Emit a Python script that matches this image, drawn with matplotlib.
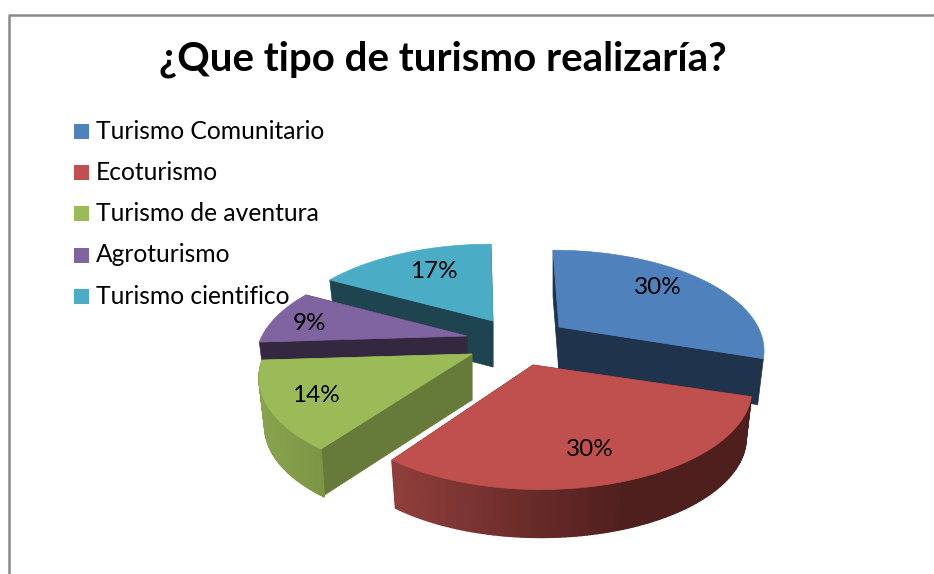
import numpy as np
import matplotlib
matplotlib.use("Agg")
import matplotlib.pyplot as plt
from matplotlib.patches import Polygon, Rectangle
from matplotlib.lines import Line2D

title = "¿Que tipo de turismo realizaría?"
categories = ["Turismo Comunitario", "Ecoturismo", "Turismo de aventura", "Agroturismo", "Turismo cientifico"]
values = [30, 30, 14, 9, 17]
top_colors = ["#4f81bd", "#c0504d", "#9bbb59", "#8064a2", "#4bacc6"]
face_colors = ["#1f334d", "#4f1f1e", "#667a3a", "#342841", "#1e4450"]

# where each exploded slice's tip sits, in pixels
tips = [(559, 327), (533, 365), (472, 354), (467, 336), (493, 321)]
# sideways nudge of the outer arc against the tip
arc_shift = [-6, 8, -2, 0, -2]
draw_order = [4, 0, 3, 2, 1]

RX = 205
RY = 95
PERSP = 0.237
DEPTH = 46


def project(theta, tip, shift=0):
    u = np.sin(theta)
    v = np.cos(theta)
    s = 1 / (1 + PERSP * v)
    return tip[0] + shift + RX * u * s, tip[1] - RY * v * s


def mix(c1, c2, t):
    a = np.array(matplotlib.colors.to_rgb(c1))
    b = np.array(matplotlib.colors.to_rgb(c2))
    return tuple(a + (b - a) * t)


plt.rcParams["font.family"] = ["Lato", "DejaVu Sans"]

fig = plt.figure(figsize=(9.34, 5.74), dpi=100)
ax = fig.add_axes([0, 0, 1, 1])
ax.set_xlim(0, 934)
ax.set_ylim(574, 0)
ax.axis("off")

# chart frame, only top and left are in the crop
ax.add_line(Line2D([9, 9, 934], [574, 14.5, 14.5], color="#8a8a8a", lw=1.8))

shares = np.array(values) / sum(values)
edges = np.concatenate([[0], np.cumsum(shares)]) * 2 * np.pi

for i in draw_order:
    tip = tips[i]
    t0, t1 = edges[i], edges[i + 1]
    thetas = np.linspace(t0, t1, 90)
    xs, ys = project(thetas, tip, arc_shift[i])
    taper = 6 * np.sin(thetas)

    # flat cut faces
    for t in (t0, t1):
        x, y = project(t, tip, arc_shift[i])
        ax.add_patch(Polygon([tip, (x, y), (x - 6 * np.sin(t), y + DEPTH),
                              (tip[0], tip[1] + DEPTH)],
                             closed=True, fc=face_colors[i], ec=face_colors[i], lw=0.5))

    # rim with a left to right shading, only the two front slices show one
    if i in (1, 2):
        for k in range(len(thetas) - 1):
            if i == 1:
                pos = min(max((xs[k] - 397) / 230, 0), 1)
                col = mix("#8f3e3b", "#4f1f1e", pos)
            else:
                pos = min(max((xs[k] - 256) / 75, 0), 1)
                col = mix("#89a44e", "#7a9344", pos)
            ax.add_patch(Polygon([(xs[k], ys[k]), (xs[k + 1], ys[k + 1]),
                                  (xs[k + 1] - taper[k + 1], ys[k + 1] + DEPTH + 2),
                                  (xs[k] - taper[k], ys[k] + DEPTH + 2)],
                                 closed=True, fc=col, ec=col, lw=1))

    # top of the slice
    ax.add_patch(Polygon(np.vstack([[tip], np.column_stack([xs, ys])]),
                         closed=True, fc=top_colors[i], ec=top_colors[i], lw=0.5))

# percent labels
label_pos = [(658, 294), (590, 456), (316, 402), (309, 330), (434, 278)]
for val, (lx, ly) in zip(values, label_pos):
    ax.text(lx, ly, f"{val}%", ha="center", va="baseline", fontsize=17.5, color="black", zorder=10)

ax.text(443, 70, title, ha="center", va="baseline", fontsize=29, fontweight="bold", color="black", zorder=10)

# legend
leg_y = [131.5, 172.5, 213.5, 255, 296]
for name, col, y in zip(categories, top_colors, leg_y):
    ax.add_patch(Rectangle((74, y - 7.5), 15, 15, fc=col, ec="none", zorder=9))
    ax.text(96, y + 7.5, name, ha="left", va="baseline", fontsize=17.7, color="black", zorder=10)

fig.savefig("out.png", dpi=100)
